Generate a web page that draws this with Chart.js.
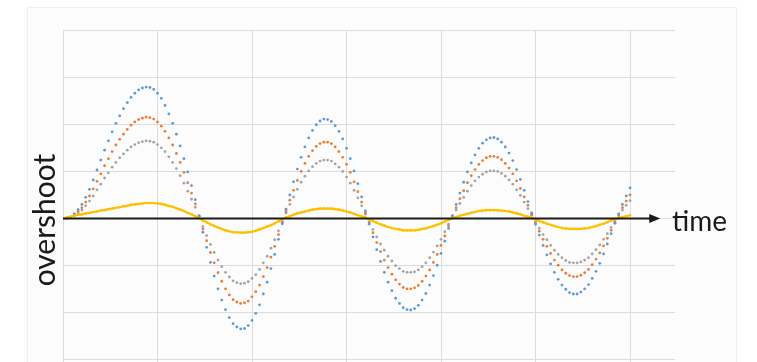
<!DOCTYPE html>
<html><head><meta charset="utf-8">
<style>html,body{margin:0;padding:0;background:#fff;overflow:hidden}#wrap{position:relative;width:757px;height:362px;overflow:hidden}</style>
<script src="https://cdn.jsdelivr.net/npm/chart.js@4.4.1/dist/chart.umd.min.js"></script>
</head><body><div id="wrap"><canvas id="c" width="757" height="367"></canvas></div>
<script>
const time = [
0,0.04,0.08,0.12,0.16,0.2,0.24,0.28,0.32,0.36,0.4,0.44,0.48,0.52,0.56,0.6,0.64,0.68,0.72,0.76,0.8,0.84,0.88,0.92,0.96,
1,1.04,1.08,1.12,1.16,1.2,1.24,1.28,1.32,1.36,1.4,1.44,1.48,1.52,1.56,1.6,1.64,1.68,1.72,1.76,1.8,1.84,1.88,1.92,1.96,
2,2.04,2.08,2.12,2.16,2.2,2.24,2.28,2.32,2.36,2.4,2.44,2.48,2.52,2.56,2.6,2.64,2.68,2.72,2.76,2.8,2.84,2.88,2.92,2.96,
3,3.04,3.08,3.12,3.16,3.2,3.24,3.28,3.32,3.36,3.4,3.44,3.48,3.52,3.56,3.6,3.64,3.68,3.72,3.76,3.8,3.84,3.88,3.92,3.96,
4,4.04,4.08,4.12,4.16,4.2,4.24,4.28,4.32,4.36,4.4,4.44,4.48,4.52,4.56,4.6,4.64,4.68,4.72,4.76,4.8,4.84,4.88,4.92,4.96,
5,5.04,5.08,5.12,5.16,5.2,5.24,5.28,5.32,5.36,5.4,5.44,5.48,5.52,5.56,5.6,5.64,5.68,5.72,5.76,5.8,5.84,5.88,5.92,5.96,
6];

const blueSeries = [
0,0.01,0.03,0.10,0.19,0.30,0.45,0.62,0.82,1.03,1.24,1.45,1.65,1.84,2.02,2.18,2.33,2.46,2.57,2.66,2.73,2.77,2.79,2.78,2.74,2.66,2.55,2.40,2.22,2.02,1.79,1.54,1.27,0.99,0.70,0.40,0.06,
-0.29,-0.61,-0.93,-1.22,-1.49,-1.73,-1.93,-2.10,-2.23,-2.30,-2.34,-2.33,-2.27,-2.16,-2.01,-1.83,-1.60,-1.35,-1.06,-0.76,-0.44,-0.11,
0.20,0.50,0.78,1.05,1.30,1.52,1.71,1.87,1.99,2.07,2.11,2.10,2.06,1.97,1.85,1.69,1.49,1.27,1.01,0.74,0.46,0.16,
-0.12,-0.39,-0.66,-0.91,-1.14,-1.35,-1.53,-1.69,-1.80,-1.89,-1.93,-1.94,-1.91,-1.84,-1.73,-1.59,-1.41,-1.21,-0.99,-0.74,-0.48,-0.21,
0.06,0.30,0.54,0.77,0.99,1.18,1.35,1.49,1.60,1.67,1.71,1.72,1.69,1.62,1.52,1.39,1.23,1.04,0.83,0.60,0.36,0.12,
-0.12,-0.35,-0.57,-0.77,-0.96,-1.14,-1.29,-1.41,-1.50,-1.57,-1.60,-1.60,-1.56,-1.49,-1.40,-1.27,-1.12,-0.95,-0.75,-0.54,-0.32,-0.10,
0.10,0.30,0.48,0.65];

const orangeSeries = [
0,0.01,0.02,0.08,0.15,0.23,0.35,0.48,0.63,0.79,0.95,1.12,1.27,1.42,1.56,1.68,1.79,1.89,1.98,2.05,2.10,2.13,2.15,2.14,2.11,2.05,1.96,1.85,1.71,1.56,1.38,1.19,0.98,0.76,0.54,0.31,0.05,
-0.22,-0.47,-0.72,-0.94,-1.15,-1.33,-1.49,-1.62,-1.72,-1.77,-1.80,-1.79,-1.75,-1.66,-1.55,-1.41,-1.23,-1.04,-0.82,-0.59,-0.34,-0.08,
0.15,0.39,0.60,0.81,1.00,1.17,1.32,1.44,1.53,1.59,1.62,1.62,1.59,1.52,1.42,1.30,1.15,0.98,0.78,0.57,0.35,0.12,
-0.09,-0.30,-0.51,-0.70,-0.88,-1.04,-1.18,-1.30,-1.39,-1.46,-1.49,-1.49,-1.47,-1.42,-1.33,-1.22,-1.09,-0.93,-0.76,-0.57,-0.37,-0.16,
0.05,0.23,0.42,0.59,0.76,0.91,1.04,1.15,1.23,1.29,1.32,1.32,1.30,1.25,1.17,1.07,0.95,0.80,0.64,0.46,0.28,0.09,
-0.09,-0.27,-0.44,-0.59,-0.74,-0.88,-0.99,-1.09,-1.16,-1.21,-1.23,-1.23,-1.20,-1.15,-1.08,-0.98,-0.86,-0.73,-0.58,-0.42,-0.25,-0.08,
0.08,0.23,0.37,0.50];

const graySeries = [
0,0.01,0.02,0.06,0.11,0.18,0.27,0.37,0.48,0.61,0.73,0.86,0.97,1.09,1.19,1.29,1.37,1.45,1.52,1.57,1.61,1.63,1.65,1.64,1.62,1.57,1.50,1.42,1.31,1.19,1.06,0.91,0.75,0.58,0.41,0.24,0.04,
-0.17,-0.36,-0.55,-0.72,-0.88,-1.02,-1.14,-1.24,-1.32,-1.36,-1.38,-1.37,-1.34,-1.27,-1.19,-1.08,-0.94,-0.80,-0.63,-0.45,-0.26,-0.06,
0.12,0.30,0.46,0.62,0.77,0.90,1.01,1.10,1.17,1.22,1.24,1.24,1.22,1.16,1.09,1.00,0.88,0.75,0.60,0.44,0.27,0.09,
-0.07,-0.23,-0.39,-0.54,-0.67,-0.80,-0.90,-1.00,-1.06,-1.12,-1.14,-1.14,-1.13,-1.09,-1.02,-0.94,-0.83,-0.71,-0.58,-0.44,-0.28,-0.12,
0.04,0.18,0.32,0.45,0.58,0.70,0.80,0.88,0.94,0.99,1.01,1.01,1.00,0.96,0.90,0.82,0.73,0.61,0.49,0.35,0.21,0.07,
-0.07,-0.21,-0.34,-0.45,-0.57,-0.67,-0.76,-0.83,-0.89,-0.93,-0.94,-0.94,-0.92,-0.88,-0.83,-0.75,-0.66,-0.56,-0.44,-0.32,-0.19,-0.06,
0.06,0.18,0.28,0.38];

const yellowSeries = [
0,0.02,0.04,0.06,0.08,0.09,0.11,0.12,0.14,0.15,0.17,0.18,0.20,0.21,0.23,0.24,0.26,0.27,0.29,0.30,0.31,0.32,0.33,0.33,0.33,0.32,0.31,0.29,0.27,0.25,0.22,0.19,0.16,0.12,0.09,0.05,0.01,
-0.04,-0.08,-0.12,-0.16,-0.19,-0.22,-0.25,-0.27,-0.29,-0.29,-0.30,-0.30,-0.29,-0.28,-0.26,-0.23,-0.20,-0.17,-0.14,-0.10,-0.06,-0.01,
0.02,0.05,0.08,0.11,0.13,0.15,0.17,0.19,0.20,0.21,0.21,0.21,0.21,0.20,0.19,0.17,0.15,0.13,0.10,0.07,0.05,0.02,
-0.02,-0.05,-0.09,-0.12,-0.15,-0.18,-0.20,-0.22,-0.23,-0.25,-0.25,-0.25,-0.25,-0.24,-0.22,-0.21,-0.18,-0.16,-0.13,-0.10,-0.06,-0.03,
0.01,0.03,0.06,0.08,0.10,0.12,0.14,0.16,0.17,0.18,0.18,0.18,0.18,0.17,0.16,0.15,0.13,0.11,0.09,0.06,0.04,0.01,
-0.02,-0.05,-0.08,-0.11,-0.13,-0.16,-0.18,-0.20,-0.21,-0.22,-0.22,-0.22,-0.22,-0.21,-0.20,-0.18,-0.16,-0.13,-0.11,-0.08,-0.04,-0.01,
0.01,0.03,0.05,0.07];

const xTicks = [0,1,2,3,4,5,6];
const yTicks = [-3,-2,-1,0,1,2,3,4];
const xAxisLabel = 'time';
const yAxisLabel = 'overshoot';

const pts = arr => time.map((t, i) => ({x: t, y: arr[i]}));

const decor = {
  id: 'decor',
  beforeDraw(chart) {
    const ctx = chart.ctx;
    ctx.save();
    ctx.fillStyle = '#fcfcfc';
    ctx.fillRect(27, 7, 710, 360);
    ctx.strokeStyle = '#efefef';
    ctx.lineWidth = 1;
    ctx.strokeRect(27.5, 7.5, 709, 365);
    ctx.restore();
  },
  afterDatasetsDraw(chart) {
    const {ctx, scales: {x, y}} = chart;
    const y0 = y.getPixelForValue(0);
    const x0 = x.getPixelForValue(0);
    const xt = x.getPixelForValue(6.32);
    ctx.save();
    ctx.strokeStyle = '#1a1a1a';
    ctx.fillStyle = '#1a1a1a';
    ctx.lineWidth = 2;
    ctx.beginPath();
    ctx.moveTo(x0, y0);
    ctx.lineTo(xt - 8, y0);
    ctx.stroke();
    ctx.beginPath();
    ctx.moveTo(xt, y0);
    ctx.lineTo(xt - 11, y0 - 4.5);
    ctx.lineTo(xt - 11, y0 + 4.5);
    ctx.closePath();
    ctx.fill();
    ctx.font = '28px Lato';
    ctx.textAlign = 'left';
    ctx.textBaseline = 'alphabetic';
    ctx.fillText(xAxisLabel, 672, y0 + 12);
    ctx.translate(55, 220);
    ctx.rotate(-Math.PI / 2);
    ctx.textAlign = 'center';
    ctx.font = '30px Lato';
    ctx.fillText(yAxisLabel, 0, 0);
    ctx.restore();
  }
};

new Chart(document.getElementById('c'), {
  type: 'scatter',
  data: {
    datasets: [
      {data: pts(yellowSeries), backgroundColor: '#FFC000', borderColor: '#FFC000', showLine: true, borderWidth: 2.2, pointRadius: 1.3, pointBorderWidth: 0},
      {data: pts(blueSeries), backgroundColor: '#5B9BD5', pointRadius: 1.4, pointBorderWidth: 0},
      {data: pts(orangeSeries), backgroundColor: '#ED7D31', pointRadius: 1.4, pointBorderWidth: 0},
      {data: pts(graySeries), backgroundColor: '#A5A5A5', pointRadius: 1.4, pointBorderWidth: 0}
    ]
  },
  options: {
    responsive: false,
    animation: false,
    devicePixelRatio: 1,
    layout: {padding: {left: 63, right: 82, top: 30, bottom: 0}},
    plugins: {legend: {display: false}, tooltip: {enabled: false}},
    scales: {
      x: {
        type: 'linear', min: 0, max: 6.476,
        afterBuildTicks: s => { s.ticks = xTicks.map(v => ({value: v})); },
        ticks: {display: false},
        grid: {color: '#dcdcdc', drawTicks: false, lineWidth: 1},
        border: {display: false}
      },
      y: {
        type: 'linear', min: -3.064, max: 4,
        afterBuildTicks: s => { s.ticks = yTicks.map(v => ({value: v})); },
        ticks: {display: false},
        grid: {color: '#dcdcdc', drawTicks: false, lineWidth: 1},
        border: {display: false}
      }
    }
  },
  plugins: [decor]
});
</script>
</body></html>
